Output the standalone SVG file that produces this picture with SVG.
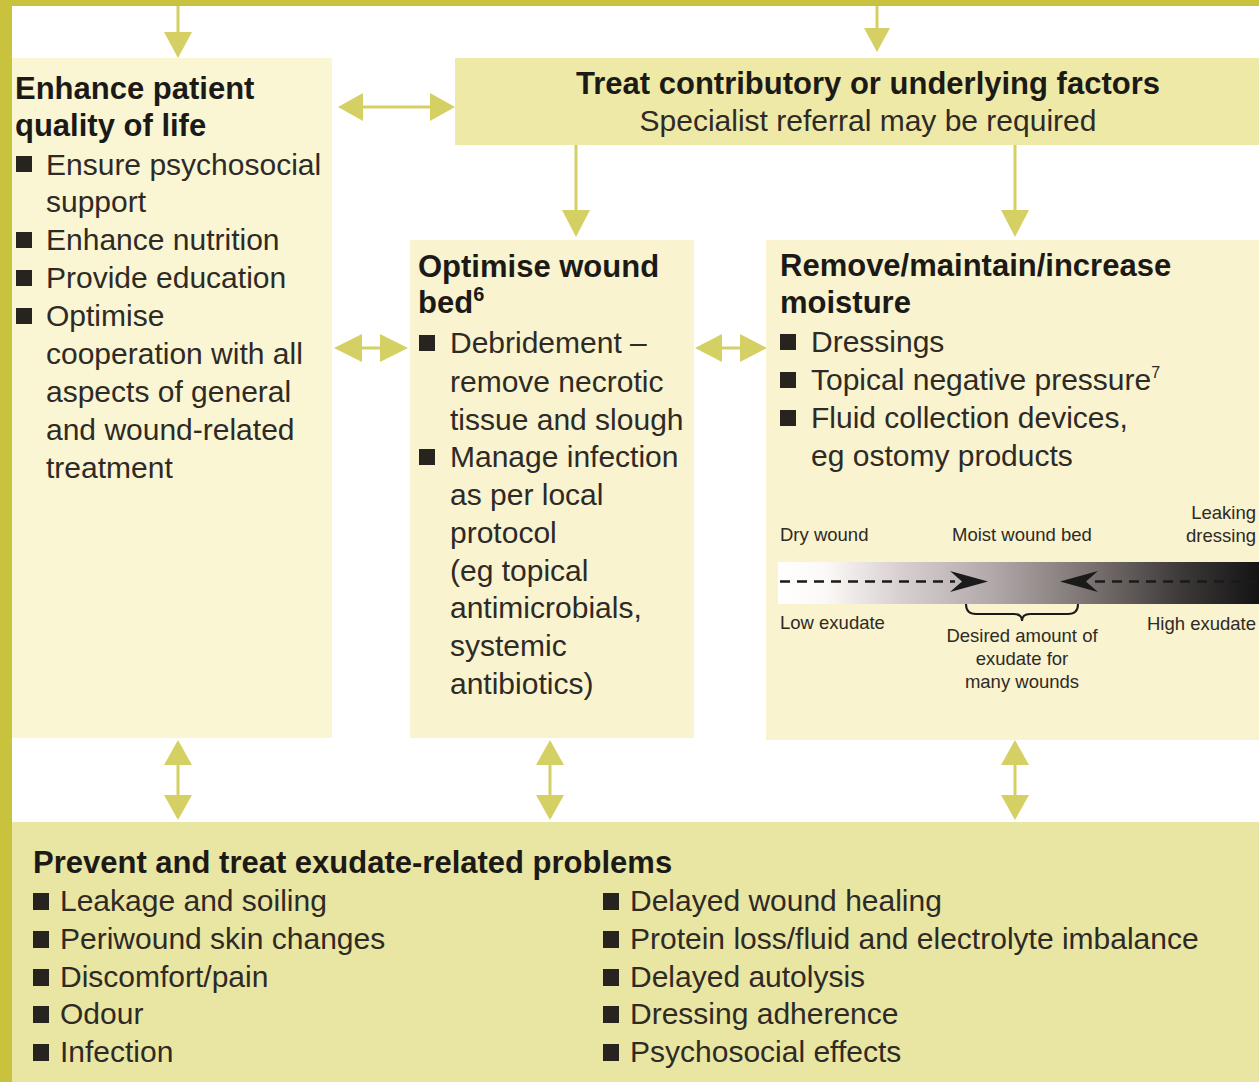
<svg xmlns="http://www.w3.org/2000/svg" width="1259" height="1082" viewBox="0 0 1259 1082">
<defs>
<style>
.h{font-family:"Liberation Sans",Arial,sans-serif;font-weight:bold;font-size:31px;fill:#1c1a17}
.t{font-family:"Liberation Sans",Arial,sans-serif;font-size:30px;fill:#2e2a25}
.s{font-family:"Liberation Sans",Arial,sans-serif;font-size:18.5px;fill:#2e2a25}
.b{fill:#27231f}
.arr{fill:#d5d063}
.ln{stroke:#d5d063;stroke-width:3;fill:none}
</style>
<linearGradient id="grad" x1="778" y1="0" x2="1259" y2="0" gradientUnits="userSpaceOnUse">
<stop offset="0" stop-color="#ffffff"/>
<stop offset="0.1" stop-color="#fbf9f6"/>
<stop offset="0.25" stop-color="#d9d0d2"/>
<stop offset="0.45" stop-color="#b0a8a8"/>
<stop offset="0.65" stop-color="#7a7270"/>
<stop offset="0.85" stop-color="#3a3636"/>
<stop offset="1" stop-color="#141414"/>
</linearGradient>
</defs>
<rect x="0" y="0" width="1259" height="1082" fill="#ffffff"/>
<rect x="0" y="0" width="1259" height="6" fill="#c9c23c"/>
<rect x="0" y="0" width="12" height="1082" fill="#c9c23c"/>

<g id="connectors">
<line class="ln" x1="178" y1="6" x2="178" y2="36"/>
<polygon class="arr" points="164,32 192,32 178,58"/>
<line class="ln" x1="877" y1="6" x2="877" y2="32"/>
<polygon class="arr" points="864,28 890,28 877,52"/>
<line class="ln" x1="360" y1="107" x2="434" y2="107"/>
<polygon class="arr" points="338,107 363,93 363,121"/>
<polygon class="arr" points="455,107 430,93 430,121"/>
<line class="ln" x1="576" y1="145" x2="576" y2="212"/>
<polygon class="arr" points="562,210 590,210 576,237"/>
<line class="ln" x1="1015" y1="145" x2="1015" y2="212"/>
<polygon class="arr" points="1001,210 1029,210 1015,237"/>
<line class="ln" x1="360" y1="348" x2="382" y2="348"/>
<polygon class="arr" points="334,348 362,334 362,362"/>
<polygon class="arr" points="408,348 380,334 380,362"/>
<line class="ln" x1="720" y1="348" x2="742" y2="348"/>
<polygon class="arr" points="695,348 722,334 722,362"/>
<polygon class="arr" points="767,348 740,334 740,362"/>
<line class="ln" x1="178" y1="762" x2="178" y2="798"/>
<polygon class="arr" points="178,740 164,765 192,765"/>
<polygon class="arr" points="178,820 164,795 192,795"/>
<line class="ln" x1="550" y1="762" x2="550" y2="798"/>
<polygon class="arr" points="550,740 536,765 564,765"/>
<polygon class="arr" points="550,820 536,795 564,795"/>
<line class="ln" x1="1015" y1="762" x2="1015" y2="798"/>
<polygon class="arr" points="1015,740 1001,765 1029,765"/>
<polygon class="arr" points="1015,820 1001,795 1029,795"/>
</g>

<g id="quality">
<rect x="12" y="58" width="320" height="680" fill="#faf5d3"/>
<text class="h" x="15" y="99">Enhance patient</text>
<text class="h" x="15" y="136">quality of life</text>
<rect class="b" x="16" y="156" width="16" height="16"/>
<text class="t" x="46" y="175">Ensure psychosocial</text>
<text class="t" x="46" y="212">support</text>
<rect class="b" x="16" y="232" width="16" height="16"/>
<text class="t" x="46" y="250">Enhance nutrition</text>
<rect class="b" x="16" y="270" width="16" height="16"/>
<text class="t" x="46" y="288">Provide education</text>
<rect class="b" x="16" y="308" width="16" height="16"/>
<text class="t" x="46" y="326">Optimise</text>
<text class="t" x="46" y="364">cooperation with all</text>
<text class="t" x="46" y="402">aspects of general</text>
<text class="t" x="46" y="440">and wound-related</text>
<text class="t" x="46" y="478">treatment</text>
</g>

<g id="treat">
<rect x="455" y="58" width="804" height="87" fill="#eee9a6"/>
<text class="h" x="868" y="94" text-anchor="middle">Treat contributory or underlying factors</text>
<text class="t" x="868" y="131" text-anchor="middle">Specialist referral may be required</text>
</g>

<g id="woundbed">
<rect x="410" y="240" width="284" height="498" fill="#f9f3cf"/>
<text class="h" x="418" y="277">Optimise wound</text>
<text class="h" x="418" y="313">bed<tspan font-size="20" dy="-12">6</tspan></text>
<rect class="b" x="419" y="335" width="16" height="16"/>
<text class="t" x="450" y="353">Debridement –</text>
<text class="t" x="450" y="392">remove necrotic</text>
<text class="t" x="450" y="430">tissue and slough</text>
<rect class="b" x="419" y="449" width="16" height="16"/>
<text class="t" x="450" y="467">Manage infection</text>
<text class="t" x="450" y="505">as per local</text>
<text class="t" x="450" y="543">protocol</text>
<text class="t" x="450" y="581">(eg topical</text>
<text class="t" x="450" y="618">antimicrobials,</text>
<text class="t" x="450" y="656">systemic</text>
<text class="t" x="450" y="694">antibiotics)</text>
</g>

<g id="moisture">
<rect x="766" y="240" width="493" height="500" fill="#f9f3cf"/>
<text class="h" x="780" y="276">Remove/maintain/increase</text>
<text class="h" x="780" y="313">moisture</text>
<rect class="b" x="780" y="334" width="16" height="16"/>
<text class="t" x="811" y="352">Dressings</text>
<rect class="b" x="780" y="372" width="16" height="16"/>
<text class="t" x="811" y="390">Topical negative pressure<tspan font-size="16" dy="-12">7</tspan></text>
<rect class="b" x="780" y="410" width="16" height="16"/>
<text class="t" x="811" y="428">Fluid collection devices,</text>
<text class="t" x="811" y="466">eg ostomy products</text>
<text class="s" x="780" y="541">Dry wound</text>
<text class="s" x="952" y="541">Moist wound bed</text>
<text class="s" x="1256" y="519" text-anchor="end">Leaking</text>
<text class="s" x="1256" y="542" text-anchor="end">dressing</text>
<rect x="778" y="562" width="481" height="42" fill="url(#grad)"/>
<line x1="780" y1="581.5" x2="955" y2="581.5" stroke="#1a1a1a" stroke-width="2.5" stroke-dasharray="10,7"/>
<line x1="1095" y1="581.5" x2="1259" y2="581.5" stroke="#1a1a1a" stroke-width="2.5" stroke-dasharray="10,7"/>
<path d="M988,581.5 L950,571 L962,581.5 L950,592 Z" fill="#1a1a1a"/>
<path d="M1060,581.5 L1098,571 L1086,581.5 L1098,592 Z" fill="#1a1a1a"/>
<path d="M966,604 Q966,614 976,614 L1014,614 Q1022,614 1022,621 Q1022,614 1030,614 L1068,614 Q1078,614 1078,604" fill="none" stroke="#1a1a1a" stroke-width="2"/>
<text class="s" x="780" y="629">Low exudate</text>
<text class="s" x="1256" y="630" text-anchor="end">High exudate</text>
<text class="s" x="1022" y="642" text-anchor="middle">Desired amount of</text>
<text class="s" x="1022" y="665" text-anchor="middle">exudate for</text>
<text class="s" x="1022" y="688" text-anchor="middle">many wounds</text>
</g>

<g id="problems">
<rect x="12" y="822" width="1247" height="260" fill="#e9e5a3"/>
<text class="h" x="33" y="873">Prevent and treat exudate-related problems</text>
<rect class="b" x="33" y="893" width="16" height="17"/>
<text class="t" x="60" y="911">Leakage and soiling</text>
<rect class="b" x="33" y="931" width="16" height="17"/>
<text class="t" x="60" y="949">Periwound skin changes</text>
<rect class="b" x="33" y="969" width="16" height="17"/>
<text class="t" x="60" y="987">Discomfort/pain</text>
<rect class="b" x="33" y="1006" width="16" height="17"/>
<text class="t" x="60" y="1024">Odour</text>
<rect class="b" x="33" y="1044" width="16" height="17"/>
<text class="t" x="60" y="1062">Infection</text>
<rect class="b" x="603" y="893" width="16" height="17"/>
<text class="t" x="630" y="911">Delayed wound healing</text>
<rect class="b" x="603" y="931" width="16" height="17"/>
<text class="t" x="630" y="949">Protein loss/fluid and electrolyte imbalance</text>
<rect class="b" x="603" y="969" width="16" height="17"/>
<text class="t" x="630" y="987">Delayed autolysis</text>
<rect class="b" x="603" y="1006" width="16" height="17"/>
<text class="t" x="630" y="1024">Dressing adherence</text>
<rect class="b" x="603" y="1044" width="16" height="17"/>
<text class="t" x="630" y="1062">Psychosocial effects</text>
</g>
</svg>
